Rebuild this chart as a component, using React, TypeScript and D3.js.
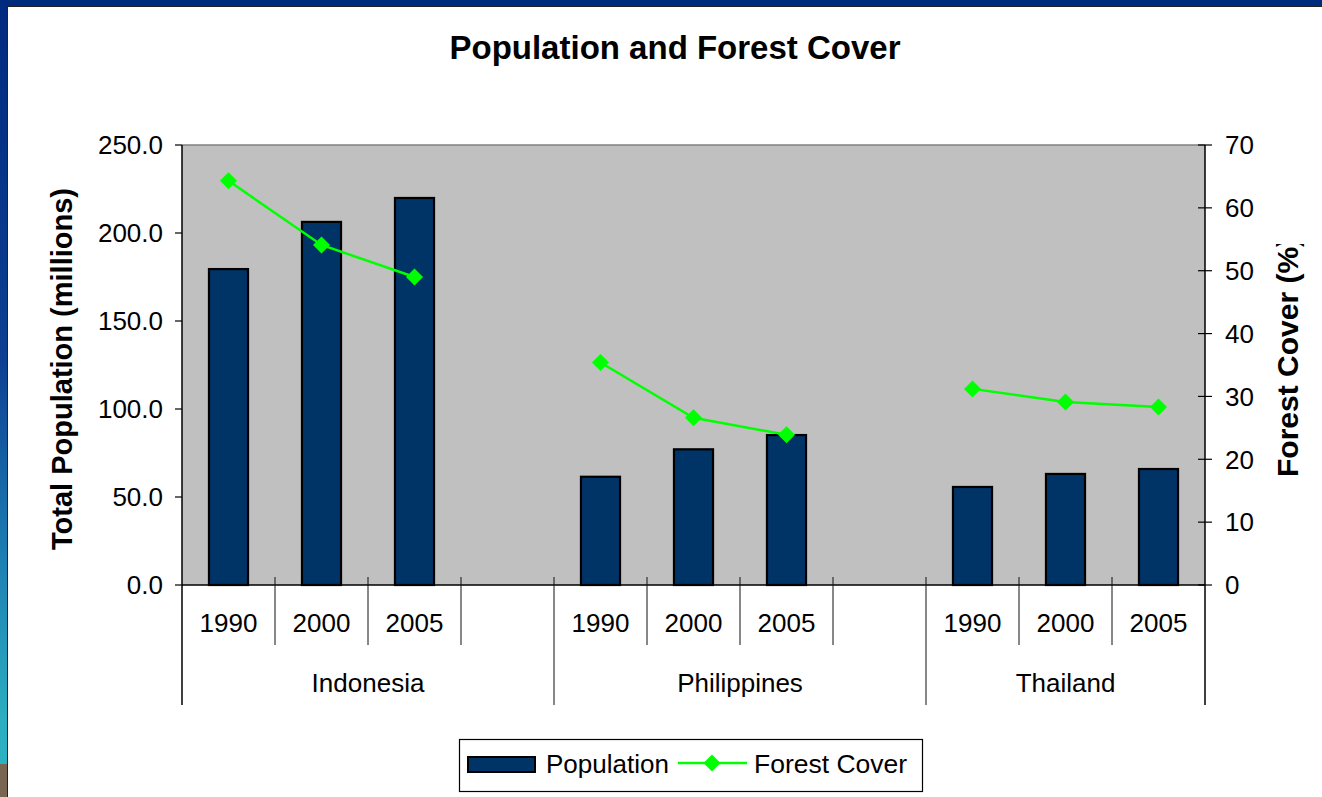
import React from "react";
import * as d3 from "d3";

const countries = ["Indonesia", "Philippines", "Thailand"];
const years = ["1990", "2000", "2005"];
// category slots: each country has its years; Indonesia and Philippines are followed by an empty slot
const slotYears = [
  ["1990", "2000", "2005", ""],
  ["1990", "2000", "2005", ""],
  ["1990", "2000", "2005"],
];
const population = [
  [179.5, 206.3, 219.9],
  [61.5, 77.1, 85.2],
  [55.7, 63.1, 65.9],
];
const forestCover = [
  [64.3, 54.1, 49.0],
  [35.4, 26.6, 23.9],
  [31.2, 29.1, 28.3],
];
const leftTicks = [0, 50, 100, 150, 200, 250];
const rightTicks = [0, 10, 20, 30, 40, 50, 60, 70];

const W = 1322;
const H = 797;
const PL = 182, PR = 1205, PT = 145, PB = 585;
const FONT = "'Liberation Sans', Arial, Helvetica, sans-serif";

type Slot = { key: string; country: string; year: string; ci: number; yi: number };

export default function App() {
  const slots: Slot[] = [];
  slotYears.forEach((ys, ci) =>
    ys.forEach((y, yi) => slots.push({ key: `${ci}-${yi}`, country: countries[ci], year: y, ci, yi }))
  );
  const x = d3.scaleBand<string>().domain(slots.map((s) => s.key)).range([PL, PR]).padding(0);
  const yL = d3.scaleLinear().domain([0, 250]).range([PB, PT]);
  const yR = d3.scaleLinear().domain([0, 70]).range([PB, PT]);
  const bw = x.bandwidth();
  const barW = bw * 0.42;

  const pts = slots.map((s) => ({
    s,
    pop: s.year && years.includes(s.year) ? population[s.ci][years.indexOf(s.year)] : null,
    fc: s.year && years.includes(s.year) ? forestCover[s.ci][years.indexOf(s.year)] : null,
  }));

  const line = d3
    .line<(typeof pts)[number]>()
    .defined((d) => d.fc != null)
    .x((d) => (x(d.s.key) as number) + bw / 2)
    .y((d) => yR(d.fc as number));

  const diamond = (cx: number, cy: number, r: number) =>
    `M${cx},${cy - r}L${cx + r},${cy}L${cx},${cy + r}L${cx - r},${cy}Z`;

  // country boundaries
  const groupStarts: number[] = [];
  const groupEnds: number[] = [];
  countries.forEach((_, ci) => {
    const ks = slots.filter((s) => s.ci === ci);
    groupStarts.push(x(ks[0].key) as number);
    groupEnds.push((x(ks[ks.length - 1].key) as number) + bw);
  });

  return (
    <svg
      width={W}
      height={H}
      style={{ position: "absolute", left: 0, top: 0, background: "#fff" }}
      fontFamily={FONT}
    >
      <defs>
        <linearGradient id="leftStrip" x1="0" y1="0" x2="0" y2="1">
          <stop offset="0" stopColor="#002a80" />
          <stop offset="0.45" stopColor="#0d3f92" />
          <stop offset="0.7" stopColor="#1d7fb3" />
          <stop offset="0.9" stopColor="#2aaec0" />
          <stop offset="0.958" stopColor="#2ab2c2" />
          <stop offset="0.959" stopColor="#786650" />
          <stop offset="1" stopColor="#786650" />
        </linearGradient>
        <clipPath id="rtClip">
          <rect x={1240} y={244} width={80} height={400} />
        </clipPath>
      </defs>
      {/* slide frame */}
      <rect x={0} y={0} width={W} height={H} fill="#fff" />
      <rect x={0} y={0} width={W} height={6} fill="#002a7c" />
      <rect x={0} y={0} width={7} height={H} fill="url(#leftStrip)" />
      <line x1={7} x2={W} y1={6.5} y2={6.5} stroke="#222" strokeWidth={1} />
      <line x1={7.5} x2={7.5} y1={6} y2={H} stroke="#222" strokeWidth={1} />

      {/* title */}
      <text x={675} y={59} textAnchor="middle" fontSize={33} fontWeight="bold" fill="#000">
        Population and Forest Cover
      </text>

      {/* plot area */}
      <rect x={PL} y={PT} width={PR - PL} height={PB - PT} fill="#c0c0c0" />
      <line x1={PL} x2={PR} y1={PT} y2={PT} stroke="#808080" strokeWidth={1.5} />

      {/* bars */}
      {pts
        .filter((d) => d.pop != null)
        .map((d) => (
          <rect
            key={"b" + d.s.key}
            x={(x(d.s.key) as number) + (bw - barW) / 2}
            y={yL(d.pop as number)}
            width={barW}
            height={PB - yL(d.pop as number)}
            fill="#003366"
            stroke="#000"
            strokeWidth={2.2}
          />
        ))}

      {/* forest cover line */}
      <path d={line(pts) || ""} fill="none" stroke="#00ff00" strokeWidth={2.5} />
      {pts
        .filter((d) => d.fc != null)
        .map((d) => (
          <path
            key={"m" + d.s.key}
            d={diamond((x(d.s.key) as number) + bw / 2, yR(d.fc as number), 8.5)}
            fill="#00ff00"
          />
        ))}

      {/* left axis */}
      <line x1={PL} x2={PL} y1={PT} y2={705} stroke="#000" strokeWidth={1.5} />
      {leftTicks.map((t) => (
        <g key={"l" + t}>
          <line x1={PL - 7} x2={PL} y1={yL(t)} y2={yL(t)} stroke="#000" strokeWidth={1.2} />
          <text x={163} y={yL(t) + 9.3} textAnchor="end" fontSize={26} fill="#000">
            {d3.format(".1f")(t)}
          </text>
        </g>
      ))}
      <text
        transform={`translate(62,${369}) rotate(-90)`}
        textAnchor="middle"
        dominantBaseline="central"
        fontSize={29}
        fontWeight="bold"
        fill="#000"
      >
        Total Population (millions)
      </text>

      {/* right axis */}
      <line x1={PR} x2={PR} y1={PT} y2={705} stroke="#000" strokeWidth={1.5} />
      {rightTicks.map((t) => (
        <g key={"r" + t}>
          <line x1={PR - 7} x2={PR + 7} y1={yR(t)} y2={yR(t)} stroke="#000" strokeWidth={1.2} />
          <text x={1225} y={yR(t) + 9.3} textAnchor="start" fontSize={26} fill="#000">
            {t}
          </text>
        </g>
      ))}
      <g clipPath="url(#rtClip)">
        <text
          transform={`translate(1287,477) rotate(-90)`}
          textAnchor="start"
          dominantBaseline="central"
          fontSize={30}
          fontWeight="bold"
          fill="#000"
        >
          Forest Cover (%)
        </text>
      </g>

      {/* category axis */}
      <line x1={PL} x2={PR} y1={PB} y2={PB} stroke="#000" strokeWidth={1.5} />
      {slots.slice(1).map((s) => {
        const bx = x(s.key) as number;
        const isGroup = s.yi === 0;
        return (
          <line
            key={"t" + s.key}
            x1={bx}
            x2={bx}
            y1={577}
            y2={isGroup ? 705 : 645}
            stroke="#111"
            strokeWidth={1}
          />
        );
      })}
      {slots
        .filter((s) => s.year)
        .map((s) => (
          <text
            key={"y" + s.key}
            x={(x(s.key) as number) + bw / 2}
            y={632}
            textAnchor="middle"
            fontSize={26}
            fill="#000"
          >
            {s.year}
          </text>
        ))}
      {countries.map((c, ci) => (
        <text
          key={"c" + c}
          x={(groupStarts[ci] + groupEnds[ci]) / 2}
          y={692}
          textAnchor="middle"
          fontSize={26}
          fill="#000"
        >
          {c}
        </text>
      ))}

      {/* legend */}
      <rect x={459.5} y={739.5} width={463} height={52} fill="#fff" stroke="#000" strokeWidth={1.2} />
      <rect x={468} y={757} width={67} height={15} fill="#003366" stroke="#000" strokeWidth={2} />
      <text x={546} y={773} fontSize={26} fill="#000">
        Population
      </text>
      <line x1={678} x2={747} y1={763} y2={763} stroke="#00ff00" strokeWidth={2.5} />
      <path d={diamond(712, 763, 8.5)} fill="#00ff00" />
      <text x={754} y={773} fontSize={26.5} fill="#000">
        Forest Cover
      </text>
    </svg>
  );
}
